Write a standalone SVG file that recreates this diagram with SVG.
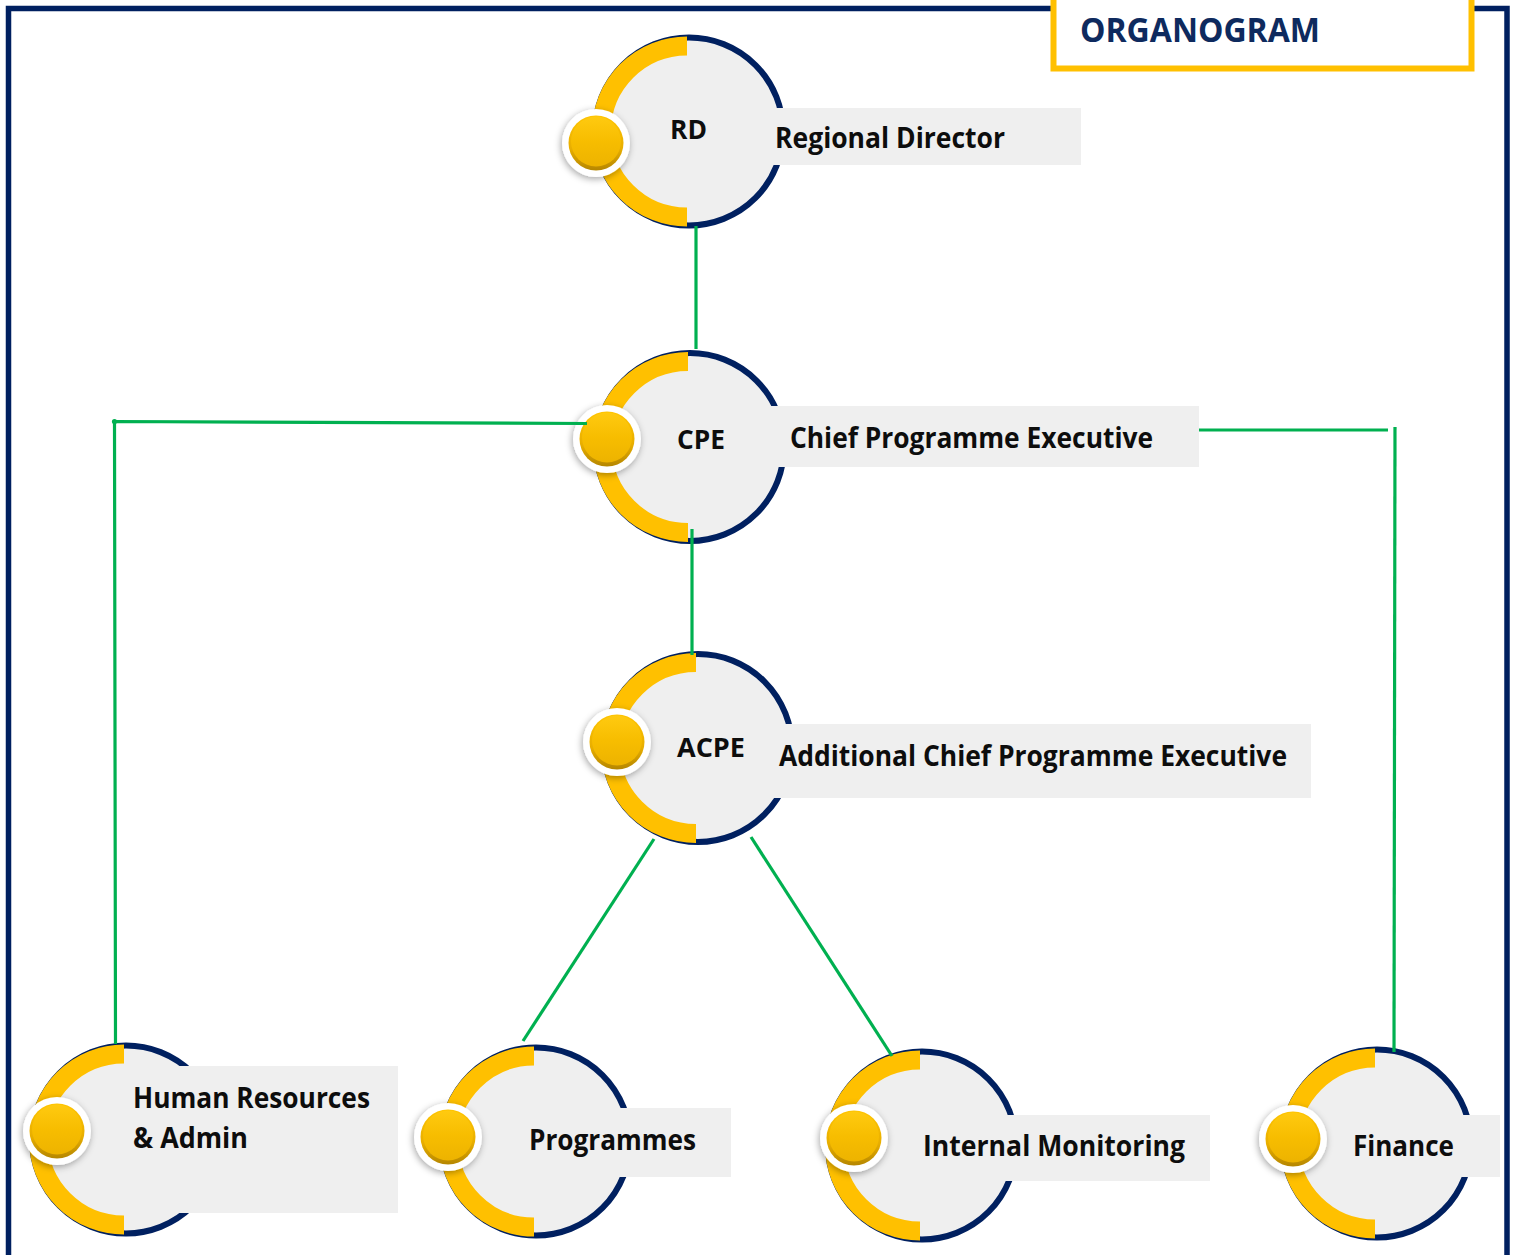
<svg xmlns="http://www.w3.org/2000/svg" width="1515" height="1255" viewBox="0 0 1515 1255">
<style>
.disc{fill:#EFEFEF}
.ring{fill:none;stroke:#002060;stroke-width:6}
.arc{fill:none;stroke:#FFC000;stroke-width:19}
.box{fill:#EFEFEF}
.bw{fill:#FFFFFF}
.brim{fill:url(#rim)}
.bface{fill:url(#face)}
.abbr{font-family:"Open Sans","Noto Sans","Liberation Sans",sans-serif;font-weight:700;font-size:26px;fill:#0D0D0D}
.lbl{font-family:"Open Sans","Noto Sans","Liberation Sans",sans-serif;font-weight:700;font-size:28px;fill:#0D0D0D}
.title{font-family:"Open Sans","Noto Sans","Liberation Sans",sans-serif;font-weight:700;font-size:33.5px;fill:#0E2A5E}
.con{stroke:#00B050;stroke-width:3.2;fill:none;stroke-linecap:butt}
</style>
<defs>
<linearGradient id="rim" x1="0" y1="0" x2="0" y2="1">
<stop offset="0" stop-color="#FFC400"/>
<stop offset="0.6" stop-color="#E8AE00"/>
<stop offset="1" stop-color="#B58600"/>
</linearGradient>
<linearGradient id="face" x1="0" y1="0" x2="0" y2="1">
<stop offset="0" stop-color="#FFCA10"/>
<stop offset="0.5" stop-color="#F7BD00"/>
<stop offset="1" stop-color="#EDB300"/>
</linearGradient>
<filter id="sh" x="-50%" y="-50%" width="200%" height="200%">
<feDropShadow dx="-1" dy="2" stdDeviation="3.5" flood-color="#000" flood-opacity="0.35"/>
</filter>
</defs>
<rect width="1515" height="1255" fill="#FFFFFF"/>
<g id="frame">
<rect x="8.5" y="8.5" width="1498.5" height="1280" fill="none" stroke="#002060" stroke-width="5.5"/>
</g>
<g id="title">
<rect x="1053.5" y="-10" width="418" height="78.5" fill="#FFFFFF" stroke="#FFC000" stroke-width="6"/>
<text class="title" x="1080" y="42" textLength="240" lengthAdjust="spacingAndGlyphs">ORGANOGRAM</text>
</g>

<g id="node-rd">
<circle class="disc" cx="689" cy="131.5" r="94"/>
<circle class="ring" cx="689" cy="131.5" r="94"/>
<rect class="box" x="632" y="108" width="449" height="57"/>
<path class="arc" d="M687 46 A85.5 85.5 0 0 0 687 217"/>
<g filter="url(#sh)"><circle class="bw" cx="596" cy="143" r="34"/></g>
<circle class="brim" cx="596" cy="143" r="27.5"/>
<circle class="bface" cx="596" cy="141.5" r="25"/>
<text class="abbr" x="670" y="139" textLength="37" lengthAdjust="spacingAndGlyphs">RD</text>
<text class="lbl" x="775" y="148" textLength="230" lengthAdjust="spacingAndGlyphs">Regional Director</text>
</g>

<g id="node-cpe">
<circle class="disc" cx="690" cy="447" r="94"/>
<circle class="ring" cx="690" cy="447" r="94"/>
<rect class="box" x="643" y="406" width="556" height="61"/>
<path class="arc" d="M688 361.5 A85.5 85.5 0 0 0 688 532.5"/>
<g filter="url(#sh)"><circle class="bw" cx="607" cy="439" r="34"/></g>
<circle class="brim" cx="607" cy="439" r="27.5"/>
<circle class="bface" cx="607" cy="437.5" r="25"/>
<text class="abbr" x="677" y="449" textLength="48" lengthAdjust="spacingAndGlyphs">CPE</text>
<text class="lbl" x="790" y="448" textLength="363" lengthAdjust="spacingAndGlyphs">Chief Programme Executive</text>
</g>

<g id="node-acpe">
<circle class="disc" cx="698" cy="748" r="94"/>
<circle class="ring" cx="698" cy="748" r="94"/>
<rect class="box" x="653" y="724" width="658" height="74"/>
<path class="arc" d="M696 662.5 A85.5 85.5 0 0 0 696 833.5"/>
<g filter="url(#sh)"><circle class="bw" cx="617" cy="742" r="34"/></g>
<circle class="brim" cx="617" cy="742" r="27.5"/>
<circle class="bface" cx="617" cy="740.5" r="25"/>
<text class="abbr" x="677" y="757" textLength="68" lengthAdjust="spacingAndGlyphs">ACPE</text>
<text class="lbl" x="779" y="766" textLength="508" lengthAdjust="spacingAndGlyphs">Additional Chief Programme Executive</text>
</g>

<g id="node-hr">
<circle class="disc" cx="126" cy="1139.5" r="94"/>
<circle class="ring" cx="126" cy="1139.5" r="94"/>
<rect class="box" x="93" y="1066" width="305" height="147"/>
<path class="arc" d="M124 1054 A85.5 85.5 0 0 0 124 1225"/>
<g filter="url(#sh)"><circle class="bw" cx="57" cy="1131" r="34"/></g>
<circle class="brim" cx="57" cy="1131" r="27.5"/>
<circle class="bface" cx="57" cy="1129.5" r="25"/>
<text class="lbl" x="133" y="1108" textLength="237" lengthAdjust="spacingAndGlyphs">Human Resources</text>
<text class="lbl" x="133" y="1148" textLength="115" lengthAdjust="spacingAndGlyphs">&amp; Admin</text>
</g>

<g id="node-programmes">
<circle class="disc" cx="536" cy="1141.5" r="94"/>
<circle class="ring" cx="536" cy="1141.5" r="94"/>
<rect class="box" x="484" y="1108" width="247" height="69"/>
<path class="arc" d="M534 1056 A85.5 85.5 0 0 0 534 1227"/>
<g filter="url(#sh)"><circle class="bw" cx="448" cy="1137" r="34"/></g>
<circle class="brim" cx="448" cy="1137" r="27.5"/>
<circle class="bface" cx="448" cy="1135.5" r="25"/>
<text class="lbl" x="529" y="1150" textLength="167" lengthAdjust="spacingAndGlyphs">Programmes</text>
</g>

<g id="node-im">
<circle class="disc" cx="922" cy="1145.5" r="94"/>
<circle class="ring" cx="922" cy="1145.5" r="94"/>
<rect class="box" x="890" y="1115" width="320" height="66"/>
<path class="arc" d="M920 1060 A85.5 85.5 0 0 0 920 1231"/>
<g filter="url(#sh)"><circle class="bw" cx="854" cy="1138" r="34"/></g>
<circle class="brim" cx="854" cy="1138" r="27.5"/>
<circle class="bface" cx="854" cy="1136.5" r="25"/>
<text class="lbl" x="923" y="1156" textLength="262" lengthAdjust="spacingAndGlyphs">Internal Monitoring</text>
</g>

<g id="node-finance">
<circle class="disc" cx="1377" cy="1143.5" r="94"/>
<circle class="ring" cx="1377" cy="1143.5" r="94"/>
<rect class="box" x="1332" y="1115" width="168" height="62"/>
<path class="arc" d="M1375 1058 A85.5 85.5 0 0 0 1375 1229"/>
<g filter="url(#sh)"><circle class="bw" cx="1293" cy="1139" r="34"/></g>
<circle class="brim" cx="1293" cy="1139" r="27.5"/>
<circle class="bface" cx="1293" cy="1137.5" r="25"/>
<text class="lbl" x="1353" y="1156" textLength="101" lengthAdjust="spacingAndGlyphs">Finance</text>
</g>

<g id="connectors">
<line class="con" x1="696" y1="226" x2="696" y2="349"/>
<line class="con" x1="692" y1="529" x2="692" y2="655"/>
<polyline class="con" points="587,423.5 114.5,421.5 115.5,1044" stroke-linejoin="round"/>
<circle cx="114.5" cy="421.5" r="2.6" fill="#00B050"/>
<line class="con" x1="1199" y1="430" x2="1388" y2="430"/>
<line class="con" x1="1395" y1="427" x2="1394" y2="1052"/>
<line class="con" x1="654" y1="839" x2="523" y2="1041"/>
<line class="con" x1="751" y1="837" x2="892" y2="1056"/>
</g>
</svg>
